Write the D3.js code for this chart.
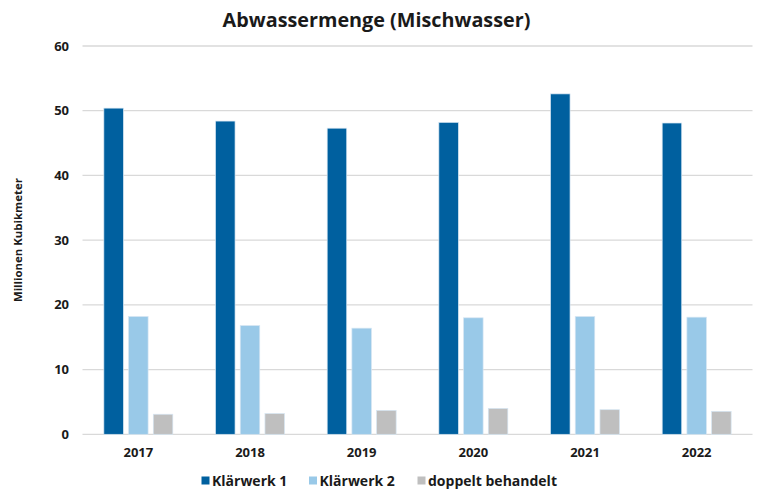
<!DOCTYPE html>
<html><head><meta charset="utf-8">
<script src="https://cdn.jsdelivr.net/npm/d3@7"></script>
<style>
html,body{margin:0;padding:0;background:#fff;}
svg{display:block;}
text{font-family:"Open Sans","Noto Sans",sans-serif;font-weight:700;fill:#1a1a1a;}
</style></head>
<body>
<svg id="chart" width="760" height="491"></svg>
<script>
const years = ["2017","2018","2019","2020","2021","2022"];
const seriesNames = ["Klärwerk 1","Klärwerk 2","doppelt behandelt"];
const klaerwerk1 = [50.4, 48.4, 47.3, 48.2, 52.6, 48.1];
const klaerwerk2 = [18.2, 16.8, 16.4, 18.0, 18.2, 18.1];
const doppelt = [3.1, 3.2, 3.7, 4.0, 3.8, 3.55];
const yTicks = [0,10,20,30,40,50,60];
const colors = ["#00609f","#99c9e8","#bfbfbf"];
const title = "Abwassermenge (Mischwasser)";
const yLabel = "Millionen Kubikmeter";

(function(){
const seriesValues = [klaerwerk1, klaerwerk2, doppelt];
const svg = d3.select("#chart");
const mLeft = 82.5, mRight = 752.5, mTop = 46, mBottom = 434.3;

const x0 = d3.scaleBand().domain(years).range([mLeft, mRight]).padding(0);
const x1 = d3.scaleBand().domain(seriesNames).range([0, x0.bandwidth()])
  .paddingInner(0.21).paddingOuter(0.864);
const y = d3.scaleLinear().domain([0, 60]).range([mBottom, mTop]);

svg.append("g").selectAll("line").data(yTicks).join("line")
  .attr("x1", mLeft).attr("x2", mRight)
  .attr("y1", d => y(d)).attr("y2", d => y(d))
  .attr("stroke", "#d9d9d9").attr("stroke-width", 1.3);

svg.append("g").selectAll("text").data(yTicks).join("text")
  .attr("x", 69).attr("y", d => y(d)).attr("dy", "0.35em")
  .attr("text-anchor", "end").attr("font-size", 13).text(d => d);

const groups = svg.append("g").selectAll("g").data(years).join("g")
  .attr("transform", d => `translate(${x0(d)},0)`);
groups.selectAll("rect").data((d, i) => seriesNames.map((s, k) => ({s, k, v: seriesValues[k][i]})))
  .join("rect")
  .attr("x", d => x1(d.s)).attr("width", x1.bandwidth())
  .attr("y", d => y(d.v)).attr("height", d => y(0) - y(d.v))
  .attr("fill", d => colors[d.k])
  .attr("stroke", "#d6e6f3").attr("stroke-width", 0.7);

svg.append("g").selectAll("text").data(years).join("text")
  .attr("x", d => x0(d) + x0.bandwidth() / 2).attr("y", 452).attr("dy", "0.35em")
  .attr("text-anchor", "middle").attr("font-size", 13).text(d => d);

svg.append("text").attr("x", 376.5).attr("y", 26.5).attr("text-anchor", "middle")
  .attr("font-size", 19.8).text(title);

svg.append("text").attr("transform", `translate(22,${(mTop + mBottom) / 2}) rotate(-90)`)
  .attr("text-anchor", "middle").attr("font-size", 11.4).text(yLabel);

const legendX = [201.5, 309, 417.5];
const lg = svg.append("g").selectAll("g").data(seriesNames).join("g")
  .attr("transform", (d, i) => `translate(${legendX[i]},481)`);
lg.append("rect").attr("x", 0).attr("y", -4.5).attr("width", 8).attr("height", 8)
  .attr("fill", (d, i) => colors[i]);
lg.append("text").attr("x", 10.5).attr("y", 0).attr("dy", "0.35em")
  .attr("font-size", 14).text(d => d);
})();
</script>
</body></html>
